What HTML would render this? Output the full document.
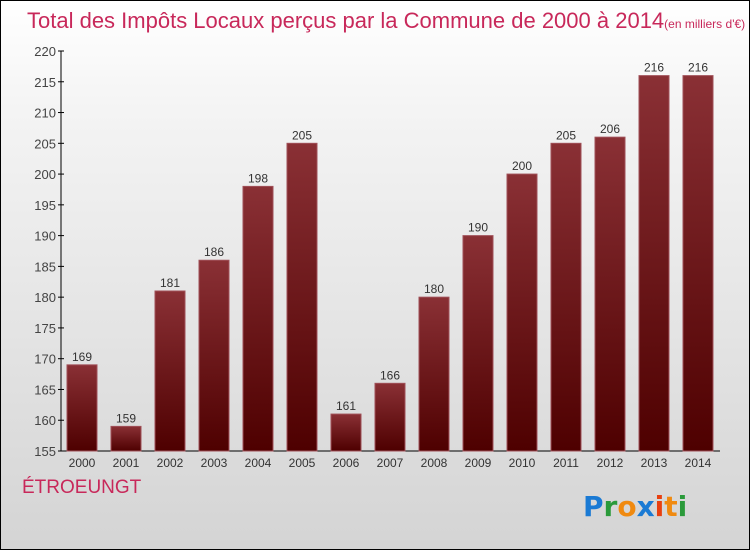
<!DOCTYPE html>
<html><head><meta charset="utf-8"><style>
body{margin:0;}
#wrap{position:relative;width:748px;height:548px;border:1px solid #000;background:linear-gradient(#fff,#f4f4f4 20%,#d4d4d4);font-family:"Liberation Sans",sans-serif;overflow:hidden}
</style></head><body>
<div id="wrap">
<svg width="748" height="548" id="chart">
<defs><linearGradient id="bg" x1="0" y1="0" x2="0" y2="1"><stop offset="0" stop-color="#8a3035"/><stop offset="1" stop-color="#4e0000"/></linearGradient></defs>
<text x="26" y="27" font-size="22" fill="#c8285a" font-weight="300">Total des Impôts Locaux perçus par la Commune de 2000 à 2014<tspan font-size="12">(en milliers d'€)</tspan></text>
<text x="21" y="492" font-size="19" fill="#c8285a">ÉTROEUNGT</text>
<g font-size="28" font-weight="bold" font-family="DejaVu Sans, sans-serif">
<text x="582" y="515"><tspan fill="#1a7ad4">P</tspan><tspan fill="#2a9a3a">r</tspan><tspan fill="#f08a10">o</tspan><tspan fill="#1a7ad4">x</tspan><tspan fill="#e84010">i</tspan><tspan fill="#f08a10">t</tspan><tspan fill="#2a9a3a">i</tspan></text></g>
<g id="g"></g>
</svg>
</div>
<script>
const years=["2000","2001","2002","2003","2004","2005","2006","2007","2008","2009","2010","2011","2012","2013","2014"];
const values=[169,159,181,186,198,205,161,166,180,190,200,205,206,216,216];
const yTicks=[155,160,165,170,175,180,185,190,195,200,205,210,215,220];
const NS="http://www.w3.org/2000/svg";
const g=document.getElementById('g');
const y0=450,y1=50,vmin=155,vmax=220;
const y=v=>y0-(v-vmin)*(y0-y1)/(vmax-vmin);
const x=i=>66+i*44;
function mk(t,a){const e=document.createElementNS(NS,t);for(const k in a)e.setAttribute(k,a[k]);g.appendChild(e);return e;}
let ax=mk('line',{x1:60,y1:y1,x2:60,y2:y0,stroke:'#000'});


let bx=mk('line',{x1:60,y1:y0,x2:719,y2:y0,stroke:'#000'});


yTicks.forEach(v=>{
 const l=mk('line',{x1:57,x2:63,y1:y(v),y2:y(v),stroke:'#000'});
 
 
 const t=mk('text',{x:55,y:y(v)+5,'text-anchor':'end','font-size':13,fill:'#444'});
 t.textContent=v;
 
 
});
values.forEach((v,i)=>{
 const r=mk('rect',{x:x(i),y:y(v),width:30,height:y0-y(v),fill:'url(#bg)',stroke:'#a05058','stroke-width':1});
 
 
 const t=mk('text',{x:x(i)+15,y:y(v)-4,'text-anchor':'middle','font-size':12,fill:'#333'});
 t.textContent=v;
 
 
 const xl=mk('text',{x:x(i)+15,y:466,'text-anchor':'middle','font-size':12,fill:'#333'});
 xl.textContent=years[i];
 
 
});
</script>
</body></html>
